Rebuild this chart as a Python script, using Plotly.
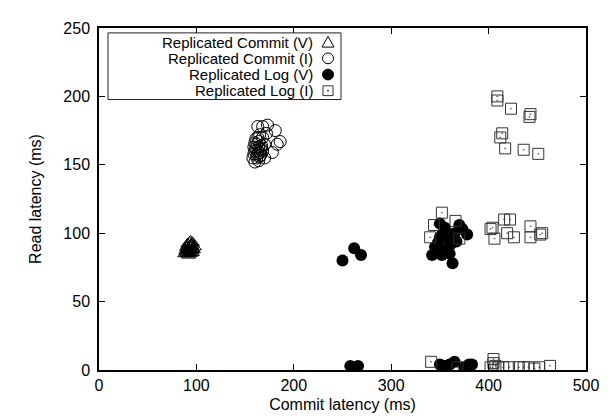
import plotly.graph_objects as go

# ---------------- data ----------------
commit_v_x = [88, 90, 91, 92, 93, 94, 95, 96, 97, 89, 90, 92, 93, 94, 95, 96, 91, 93, 94, 95, 92, 93, 94, 90, 96, 98, 91, 93, 95, 92]
commit_v_y = [85, 86, 88, 89, 90, 91, 92, 93, 88, 87, 90, 91, 86, 85, 87, 89, 92, 93, 94, 88, 84, 87, 90, 89, 86, 90, 85, 88, 91, 87]

commit_i_x = [158, 159, 160, 161, 162, 163, 164, 165, 166, 167, 160, 162, 164, 166, 168, 161, 163, 165,
              159, 162, 164, 167, 170, 163, 165, 160, 168, 173, 168, 163, 181, 186, 183, 178, 172, 170]
commit_i_y = [155, 158, 160, 162, 157, 160, 163, 159, 161, 164, 166, 155, 153, 157, 160, 169, 170, 172,
              163, 165, 167, 162, 165, 158, 156, 152, 170, 179, 178, 178, 175, 167, 165, 159, 173, 155]

log_v_x = [250, 262, 269,
           350, 355, 370, 373, 378, 342, 352, 363, 350, 361, 345, 356, 348, 358, 365, 367, 353, 346, 360,
           258, 262, 266, 350, 353, 356, 360, 365, 375, 380, 383]
log_v_y = [80, 89, 84,
           107, 104, 106, 103, 99, 84, 84, 78, 97, 92, 90, 88, 93, 96, 100, 94, 100, 86, 85,
           3, 2, 3, 4, 2, 3, 4, 6, 2, 4, 4]

log_i_x = [409, 409, 423, 443, 442, 414, 412, 417, 436, 451,
           352, 344, 366, 340, 370, 402,
           404, 416, 422, 419, 406, 426, 443, 455, 443, 453,
           341, 368, 405, 405, 402, 410, 421, 431, 441, 452, 463, 407, 415, 436, 447]
log_i_y = [200, 197, 191, 187, 185, 173, 170, 162, 161, 158,
           115, 106, 109, 97, 96, 103,
           104, 110, 110, 100, 96, 97, 105, 100, 97, 99,
           6, 2, 8, 5, 2, 2, 2, 2, 2, 2, 3, 3, 2, 2, 1]

series_names = ["Replicated Commit (V)", "Replicated Commit (I)", "Replicated Log (V)", "Replicated Log (I)"]
x_ticks = [0, 100, 200, 300, 400, 500]
y_ticks = [0, 50, 100, 150, 200, 250]

# ---------------- figure ----------------
FONT = "Liberation Sans, Arial, Helvetica, sans-serif"
FS = 16
KFS = 15
W, H = 610, 420
L, R, T, B = 91, 578, 13, 362   # plot area in px
pw, ph = R - L, B - T

def px(x):
    return (x - L) / pw

def py(y):
    return (B - y) / ph

fig = go.Figure()
line = dict(color="black", width=1)
fig.add_trace(go.Scatter(x=commit_v_x, y=commit_v_y, mode="markers", name=series_names[0],
                         marker=dict(symbol="triangle-up-open", size=12, color="black", line=line)))
fig.add_trace(go.Scatter(x=commit_i_x, y=commit_i_y, mode="markers", name=series_names[1],
                         marker=dict(symbol="circle-open", size=12, color="black", line=line)))
fig.add_trace(go.Scatter(x=log_v_x, y=log_v_y, mode="markers", name=series_names[2],
                         marker=dict(symbol="circle", size=12, color="black", line=dict(width=0))))
fig.add_trace(go.Scatter(x=log_i_x, y=log_i_y, mode="markers", name=series_names[3],
                         marker=dict(symbol="square-open-dot", size=11, color="#333333", line=line)))

# ---- custom gnuplot-style key (text right-aligned, sample at right) ----
shapes = []
annotations = []
box = (100, 18, 333, 86)
shapes.append(dict(type="rect", xref="paper", yref="paper",
                   x0=px(box[0]), x1=px(box[2]), y0=py(box[3]), y1=py(box[1]),
                   line=dict(color="#222222", width=1), fillcolor="white", layer="above"))
rows = [27.5, 44, 60.5, 77]
text_right = 307
sx = 320
for name, ry in zip(series_names, rows):
    annotations.append(dict(text=name, xref="paper", yref="paper", x=px(text_right), y=py(ry),
                            xanchor="right", yanchor="middle", showarrow=False,
                            font=dict(family=FONT, size=KFS, color="black")))
r = 5.5
shapes.append(dict(type="path", xref="paper", yref="paper",
                   path=f"M {px(sx-6)},{py(rows[0]+5)} L {px(sx+6)},{py(rows[0]+5)} L {px(sx)},{py(rows[0]-6)} Z",
                   line=dict(color="black", width=1), layer="above"))
shapes.append(dict(type="circle", xref="paper", yref="paper",
                   x0=px(sx-r), x1=px(sx+r), y0=py(rows[1]+r), y1=py(rows[1]-r),
                   line=dict(color="black", width=1), layer="above"))
shapes.append(dict(type="circle", xref="paper", yref="paper",
                   x0=px(sx-r), x1=px(sx+r), y0=py(rows[2]+r), y1=py(rows[2]-r),
                   line=dict(color="black", width=1), fillcolor="black", layer="above"))
shapes.append(dict(type="rect", xref="paper", yref="paper",
                   x0=px(sx-5), x1=px(sx+5), y0=py(rows[3]+5), y1=py(rows[3]-5),
                   line=dict(color="#333333", width=1), layer="above"))
shapes.append(dict(type="rect", xref="paper", yref="paper",
                   x0=px(sx-0.7), x1=px(sx+0.7), y0=py(rows[3]+0.7), y1=py(rows[3]-0.7),
                   line=dict(color="black", width=0), fillcolor="black", layer="above"))

axis_common = dict(showline=True, linecolor="black", linewidth=1.5, mirror="allticks",
                   ticks="inside", ticklen=6, tickwidth=1, tickcolor="black",
                   showgrid=False, zeroline=False,
                   tickfont=dict(family=FONT, size=FS, color="black"))

fig.update_layout(
    width=W, height=H,
    margin=dict(l=L, r=W - R, t=T, b=H - B),
    paper_bgcolor="white", plot_bgcolor="white",
    showlegend=False,
    shapes=shapes, annotations=annotations,
    xaxis=dict(range=[0, 500], tickvals=x_ticks, ticktext=[str(v) for v in x_ticks],
               title=dict(text="Commit latency (ms)", font=dict(family=FONT, size=FS, color="black"), standoff=6),
               **axis_common),
    yaxis=dict(range=[0, 250], tickvals=y_ticks, ticktext=[str(v) for v in y_ticks],
               ticklabelstandoff=4,
               title=dict(text="Read latency (ms)", font=dict(family=FONT, size=FS, color="black"), standoff=18),
               **axis_common),
)

fig.write_html("out.html")
